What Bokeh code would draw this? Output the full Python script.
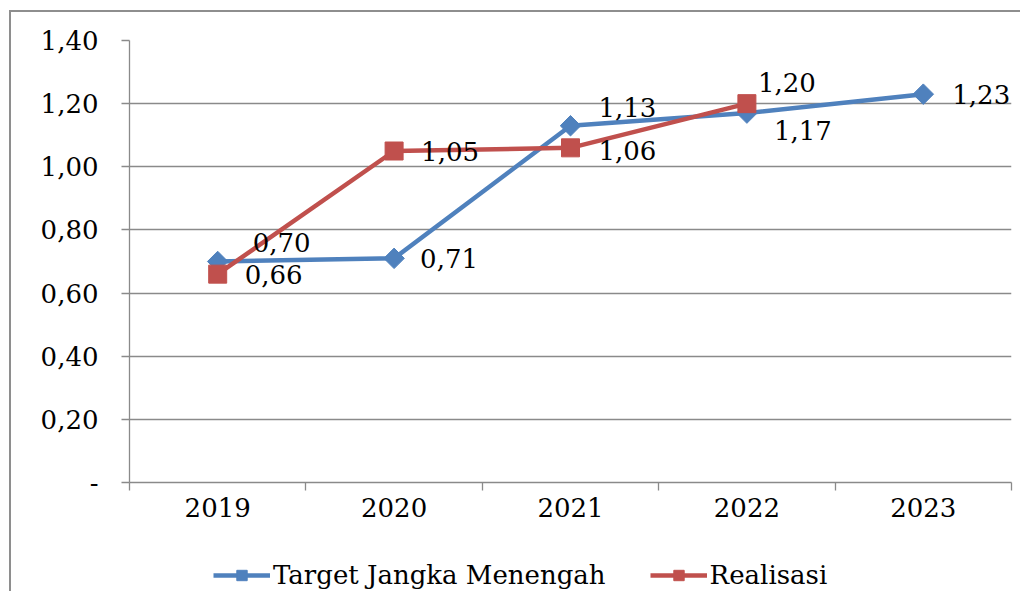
from bokeh.plotting import figure
from bokeh.layouts import column
from bokeh.models import (ColumnDataSource, Range1d, FixedTicker, Legend, LegendItem)
from bokeh.core.properties import value
from bokeh.embed import file_html
from bokeh.resources import INLINE

years = ["2019", "2020", "2021", "2022", "2023"]
target = [0.70, 0.71, 1.13, 1.17, 1.23]
realisasi_years = ["2019", "2020", "2021", "2022"]
realisasi = [0.66, 1.05, 1.06, 1.20]
y_ticks = [0.0, 0.2, 0.4, 0.6, 0.8, 1.0, 1.2, 1.4]
y_tick_labels = ["-", "0,20", "0,40", "0,60", "0,80", "1,00", "1,20", "1,40"]
series_names = ["Target Jangka Menengah", "Realisasi"]

# label placement offsets (screen px), style only
t_dx = [35, 26, 28, 27, 29]
t_dy = [-19, 0, -18, 17, 0]
r_dx = [27, 27, 28, 11]
r_dy = [0, 0, 3, -21]

FONT = "DejaVu Serif"
FS = "26px"
GRID = "#8a8a8a"
BLUE = "#4F81BD"
RED = "#C0504D"

def fmt(v):
    return f"{v:.2f}".replace(".", ",")

xpos = {y: i + 0.5 for i, y in enumerate(years)}

src_t = ColumnDataSource(dict(x=[xpos[y] for y in years], y=target,
                              lab=[fmt(v) for v in target], dx=t_dx, dy=t_dy))
src_r = ColumnDataSource(dict(x=[xpos[y] for y in realisasi_years], y=realisasi,
                              lab=[fmt(v) for v in realisasi], dx=r_dx, dy=r_dy))

p = figure(frame_width=882, frame_height=442, output_backend="svg", toolbar_location=None,
           x_range=Range1d(0, len(years)), y_range=Range1d(0, 1.4),
           min_border_left=118, min_border_top=28, min_border_right=9,
           min_border_bottom=0)
p.outline_line_color = None
p.background_fill_color = "white"
p.border_fill_color = "white"

# axes
p.xaxis.ticker = FixedTicker(ticks=[xpos[y] for y in years],
                             minor_ticks=list(range(len(years) + 1)))
p.xaxis.major_label_overrides = {xpos[y]: y for y in years}
p.xaxis.major_tick_line_color = None
p.xaxis.minor_tick_line_color = GRID
p.xaxis.minor_tick_line_width = 1.3
p.xaxis.minor_tick_out = 8
p.xaxis.minor_tick_in = 0
p.xaxis.major_tick_out = 8
p.xaxis.major_tick_in = 0
p.xaxis.major_label_standoff = 7
p.xaxis.axis_line_color = GRID
p.xaxis.axis_line_width = 1.3

p.yaxis.ticker = FixedTicker(ticks=y_ticks)
p.yaxis.major_label_overrides = {t: l for t, l in zip(y_ticks, y_tick_labels)}
p.yaxis.major_tick_out = 8
p.yaxis.major_tick_in = 0
p.yaxis.minor_tick_line_color = None
p.yaxis.major_tick_line_color = GRID
p.yaxis.major_tick_line_width = 1.3
p.yaxis.major_label_standoff = 23
p.yaxis.axis_line_color = GRID
p.yaxis.axis_line_width = 1.3

for ax in (p.xaxis, p.yaxis):
    ax.major_label_text_font = FONT
    ax.major_label_text_font_size = FS
    ax.major_label_text_color = "black"

p.xgrid.grid_line_color = None
p.ygrid.ticker = FixedTicker(ticks=y_ticks)
p.ygrid.grid_line_color = GRID
p.ygrid.grid_line_width = 1.3

# series
p.line("x", "y", source=src_t, line_color=BLUE, line_width=4.5)
p.scatter("x", "y", source=src_t, marker="square", angle=0.785398,
          size=14.5, fill_color=BLUE, line_color=BLUE)
p.line("x", "y", source=src_r, line_color=RED, line_width=4.5)
p.scatter("x", "y", source=src_r, marker="square", size=18,
          fill_color=RED, line_color=RED)

for src in (src_t, src_r):
    p.text("x", "y", text="lab", source=src, x_offset="dx", y_offset="dy",
           text_font=value(FONT), text_font_size=FS, text_color="black",
           text_align="left", text_baseline="middle")

# legend strip (separate canvas below the chart); its ranges keep the
# series out of view so only the legend shows
p2 = figure(width=1009, height=72, output_backend="svg", toolbar_location=None,
            x_range=Range1d(100, 101), y_range=Range1d(100, 101), min_border=0)
p2.axis.visible = False
p2.grid.visible = False
p2.outline_line_color = None
p2.background_fill_color = "white"
p2.border_fill_color = "white"
l1 = p2.line("x", "y", source=src_t, line_color=BLUE, line_width=4.5)
m1 = p2.scatter("x", "y", source=src_t, marker="square", angle=0.785398, size=12,
                fill_color=BLUE, line_color=BLUE)
l2 = p2.line("x", "y", source=src_r, line_color=RED, line_width=4.5)
m2 = p2.scatter("x", "y", source=src_r, marker="square", size=15,
                fill_color=RED, line_color=RED)
legend = Legend(items=[LegendItem(label=series_names[0], renderers=[l1, m1]),
                       LegendItem(label=series_names[1], renderers=[l2, m2])],
                orientation="horizontal", location=(84, 1),
                label_text_font=FONT, label_text_font_size=FS,
                label_text_color="black",
                glyph_width=57, glyph_height=26, label_standoff=3, spacing=44,
                margin=0, padding=6, border_line_color=None,
                background_fill_alpha=0)
p2.add_layout(legend, "center")

layout = column(p, p2, spacing=0,
                styles={"border-left": "2px solid #8e8e8e",
                        "border-top": "2px solid #8e8e8e",
                        "margin-left": "9px", "margin-top": "10px"})

open("out.html", "w").write(file_html(layout, INLINE))
